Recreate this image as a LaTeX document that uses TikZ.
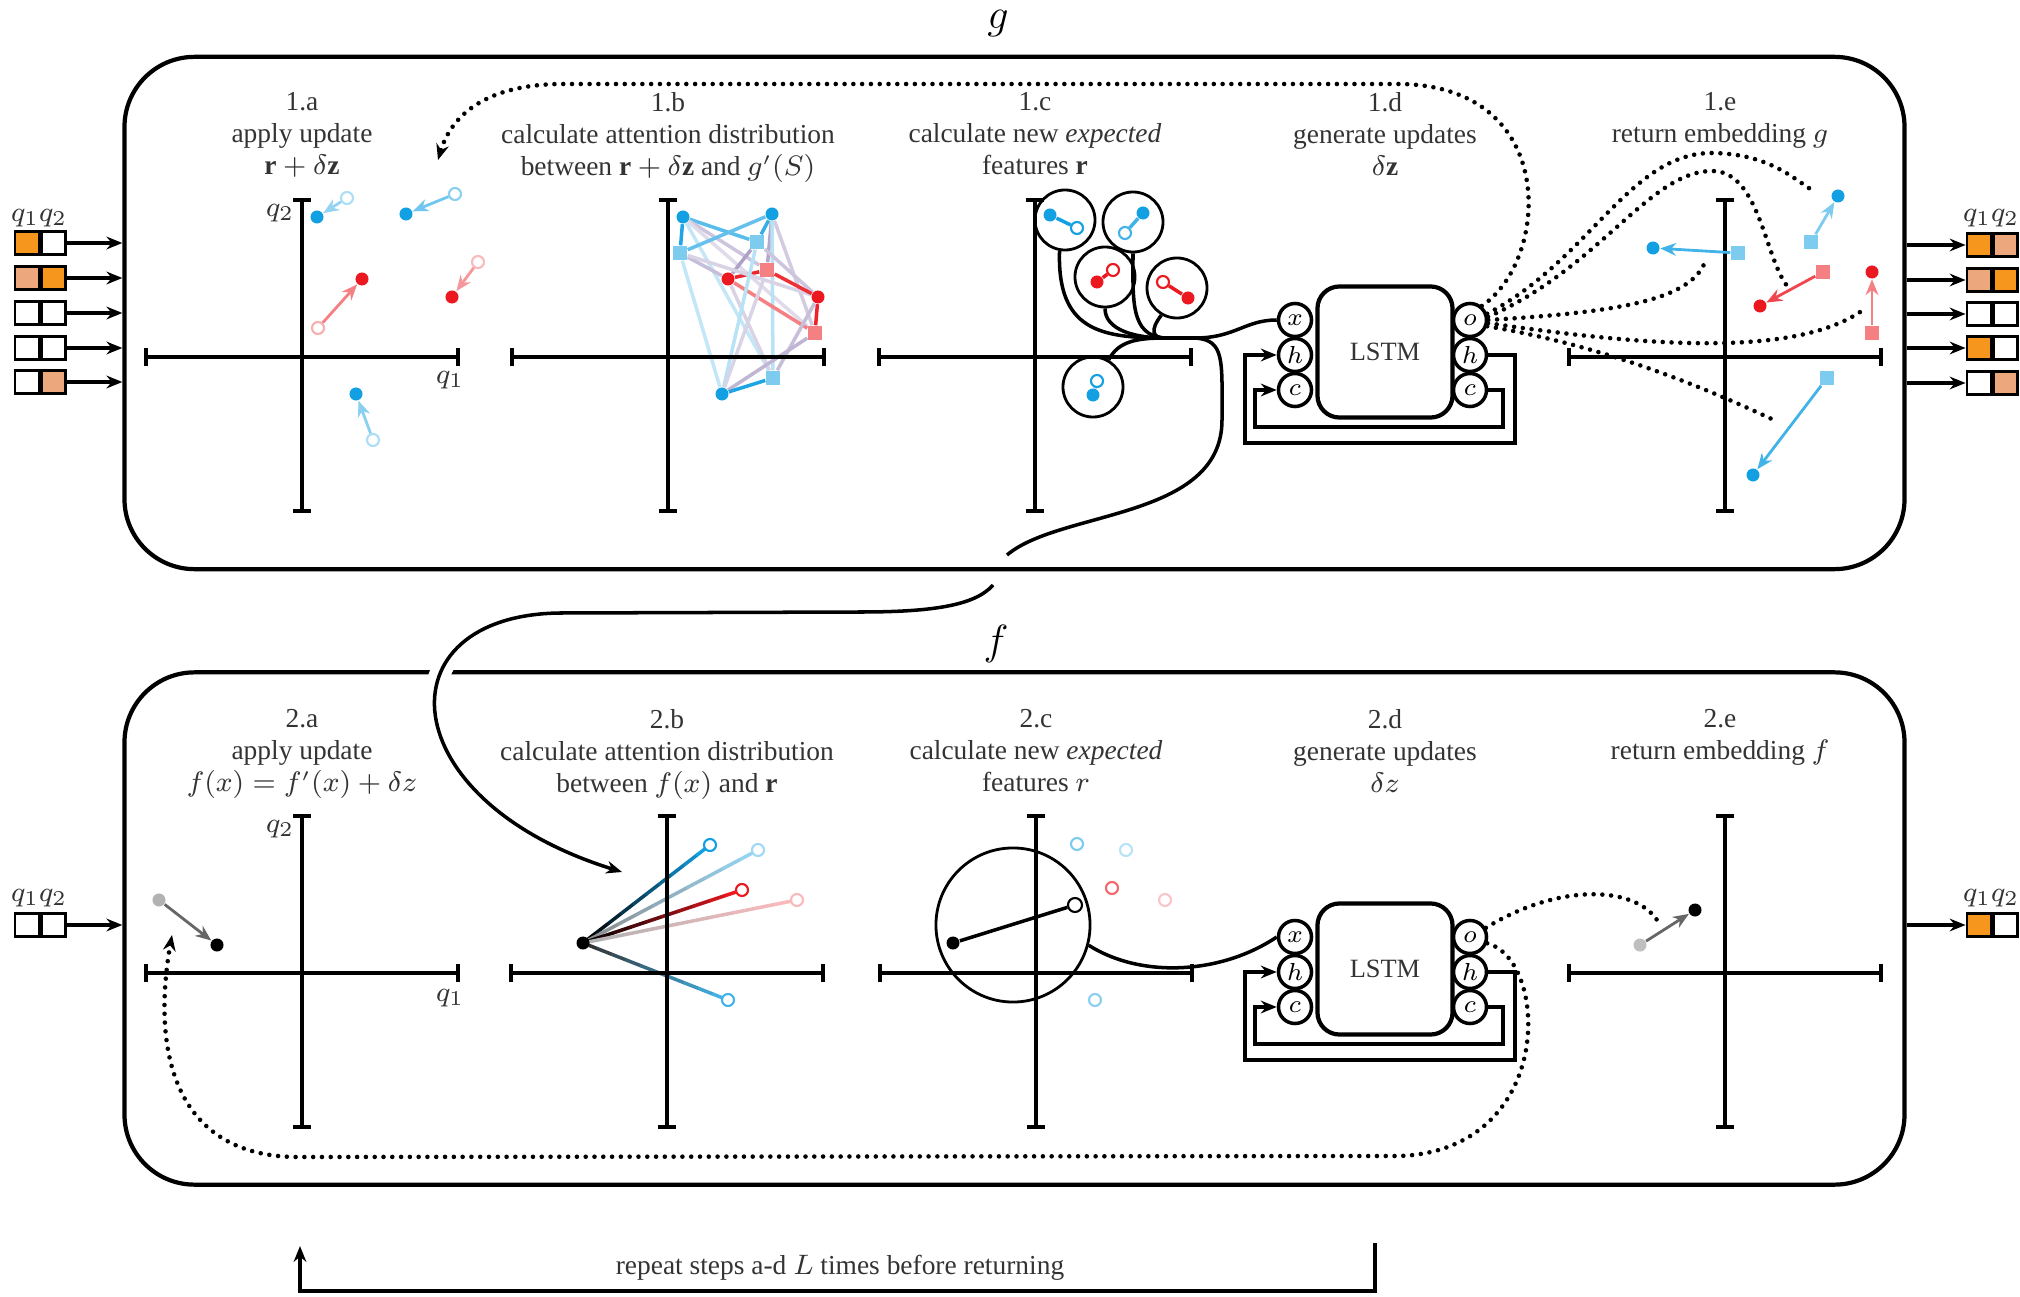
\documentclass[tikz,border=0pt]{standalone}
\usepackage{amsmath, amssymb}
\usepackage{fontspec}
\setmainfont{Liberation Serif}
\usetikzlibrary{positioning,calc,arrows.meta,backgrounds}

\definecolor{ptblue}{RGB}{18,160,226}
\definecolor{ptred}{RGB}{236,24,32}
\definecolor{ptmix}{RGB}{130,110,170}
\definecolor{ptorange}{RGB}{246,150,28}
\definecolor{ptpeach}{RGB}{236,168,124}

\begin{document}
\begin{tikzpicture}[
    x=0.01cm,
    y=-0.01cm,
    font=\fontsize{7.8}{9}\selectfont,
    >={Stealth[length=4.5pt,width=3.6pt]},
    panel/.style={
        draw,
        line width=1.2pt,
        rounded corners=0.7cm,
        minimum width=17.79cm,
        minimum height=5.12cm
    },
    qaxis/.style={
        line width=1.2pt,
        {Bar[width=5pt]}-{Bar[width=5pt]}
    },
    heading/.style={
        align=center,
        anchor=north,
        inner sep=0pt,
        text=black!80
    },
    qlabel/.style={
        font=\fontsize{8.5}{10}\selectfont,
        text=black!80
    },
    pdot/.style={circle, fill=#1, inner sep=0pt, minimum size=0.13cm},
    pring/.style={circle, draw=#1, fill=white, line width=0.6pt, inner sep=0pt, minimum size=0.12cm},
    psq/.style={rectangle, fill=#1, inner sep=0pt, minimum size=0.14cm},
    nudge/.style={->, line width=0.8pt, draw=#1},
    bubble/.style={circle, draw, line width=0.8pt, inner sep=0pt, minimum size=0.6cm},
    gate/.style={
        circle,
        draw,
        line width=1pt,
        inner sep=0pt,
        minimum size=0.33cm,
        font=\fontsize{7.5}{8}\selectfont
    },
    cellbox/.style={
        draw,
        line width=1.2pt,
        rounded corners=0.22cm,
        minimum width=1.35cm,
        minimum height=1.31cm,
        font=\fontsize{7.5}{8}\selectfont,
        text=black!80
    },
    slot/.style={draw, line width=0.8pt, fill=#1, inner sep=0pt, minimum width=0.24cm, minimum height=0.23cm},
    wire/.style={line width=1pt},
    dotline/.style={line width=1.3pt, line cap=round, dash pattern=on 0pt off 2.5pt}
]
    \useasboundingbox (0,0) rectangle (2020,1297);

    % panels
    \node[panel] (gpanel) at (1014.5,313) {};
    \node[panel] (fpanel) at (1014.5,928.5) {};
    \node[font=\fontsize{13}{15}\selectfont] (gname) at (998,24) {$g$};
    \node[font=\fontsize{13}{15}\selectfont] (fname) at (996,644) {$f$};

    % axes
    \foreach \cx/\cy in {302/357, 668/357, 1035/357, 1725/357, 302/973, 667/973, 1036/973, 1725/973}{
        \draw[qaxis] (\cx-158,\cy) -- (\cx+158,\cy);
        \draw[qaxis] (\cx,\cy-159) -- (\cx,\cy+156);
    }
    \node[qlabel] (q2top) at (280,213) {$q_2$};
    \node[qlabel] (q1top) at (450,380) {$q_1$};
    \node[qlabel] (q2bot) at (280,829) {$q_2$};
    \node[qlabel] (q1bot) at (450,998) {$q_1$};

    % headings
    \node[heading] (ha) at (302,92) {1.a\\apply update\\$\mathbf{r}+\delta\mathbf{z}$};
    \node[heading] (hb) at (668,92) {1.b\\calculate attention distribution\\between $\mathbf{r}+\delta\mathbf{z}$ and $g'(S)$};
    \node[heading] (hc) at (1035,92) {1.c\\calculate new \emph{expected}\\features $\mathbf{r}$};
    \node[heading] (hd) at (1385,92) {1.d\\generate updates\\$\delta\mathbf{z}$};
    \node[heading] (he) at (1720,92) {1.e\\return embedding $g$};
    \node[heading] (h2a) at (302,709) {2.a\\apply update\\$f(x)=f'(x)+\delta z$};
    \node[heading] (h2b) at (667,709) {2.b\\calculate attention distribution\\between $f(x)$ and $\mathbf{r}$};
    \node[heading] (h2c) at (1036,709) {2.c\\calculate new \emph{expected}\\features $r$};
    \node[heading] (h2d) at (1385,709) {2.d\\generate updates\\$\delta z$};
    \node[heading] (h2e) at (1720,709) {2.e\\return embedding $f$};

    % inputs and outputs
    \node[qlabel] (qinA) at (39,218) {$q_1q_2$};
    \foreach \n/\yy/\cl/\cr in {1/243/ptorange/white, 2/278/ptpeach/ptorange, 3/313/white/white, 4/348/white/white, 5/382/white/ptpeach}{
        \node[slot=\cl] (inL\n) at (27,\yy) {};
        \node[slot=\cr, right=0pt of inL\n] (inR\n) {};
        \draw[wire,->] (inR\n.east) -- (inR\n.east -| gpanel.west);
    }
    \node[qlabel] (qoutA) at (1991,218) {$q_1q_2$};
    \foreach \n/\yy/\cl/\cr in {1/245/ptorange/ptpeach, 2/280/ptpeach/ptorange, 3/314/white/white, 4/348/ptorange/white, 5/383/white/ptpeach}{
        \node[slot=\cl] (outL\n) at (1979,\yy) {};
        \node[slot=\cr, right=0pt of outL\n] (outR\n) {};
        \draw[wire,->] (gpanel.east |- outL\n.west) -- (outL\n.west);
    }
    \node[qlabel] (qinB) at (39,898) {$q_1q_2$};
    \node[slot=white] (inLB) at (27,925) {};
    \node[slot=white, right=0pt of inLB] (inRB) {};
    \draw[wire,->] (inRB.east) -- (inRB.east -| fpanel.west);
    \node[qlabel] (qoutB) at (1991,898) {$q_1q_2$};
    \node[slot=ptorange] (outLB) at (1979,925) {};
    \node[slot=white, right=0pt of outLB] (outRB) {};
    \draw[wire,->] (fpanel.east |- outLB.west) -- (outLB.west);

    % 1.a apply update
    \begin{scope}[shift={(302,357)}]
        \node[pdot=ptblue] (aB1) at (15,-140) {};
        \node[pring=ptblue!35] (aB1o) at (45,-159) {};
        \node[pdot=ptblue] (aB2) at (104,-143) {};
        \node[pring=ptblue!50] (aB2o) at (153,-163) {};
        \node[pdot=ptred] (aR1) at (60,-78) {};
        \node[pring=ptred!35] (aR1o) at (16,-29) {};
        \node[pdot=ptred] (aR2) at (150,-60) {};
        \node[pring=ptred!30] (aR2o) at (176,-95) {};
        \node[pdot=ptblue] (aB3) at (54,37) {};
        \node[pring=ptblue!35] (aB3o) at (71,83) {};
    \end{scope}
    \draw[nudge=ptblue!45] (aB1o) -- (aB1);
    \draw[nudge=ptblue!60] (aB2o) -- (aB2);
    \draw[nudge=ptred!55] (aR1o) -- (aR1);
    \draw[nudge=ptred!45] (aR2o) -- (aR2);
    \draw[nudge=ptblue!50] (aB3o) -- (aB3);

    % 1.b attention
    \begin{scope}[shift={(668,357)}]
        \node[pdot=ptblue] (bP1) at (15,-140) {};
        \node[pdot=ptblue] (bP2) at (104,-143) {};
        \node[pdot=ptred] (bP3) at (60,-78) {};
        \node[pdot=ptred] (bP4) at (150,-60) {};
        \node[pdot=ptblue] (bP5) at (54,37) {};
        \node[psq=ptblue!55] (bQ1) at (12,-104) {};
        \node[psq=ptblue!55] (bQ2) at (89,-115) {};
        \node[psq=ptred!55] (bQ3) at (99,-87) {};
        \node[psq=ptred!55] (bQ4) at (147,-24) {};
        \node[psq=ptblue!55] (bQ5) at (105,21) {};
    \end{scope}
    \begin{scope}[on background layer]
        \foreach \i/\j/\c/\o in {
            1/1/ptblue/95, 1/2/ptblue/70, 1/3/ptmix/40, 1/4/ptmix/25, 1/5/ptblue/25,
            2/1/ptblue/65, 2/2/ptblue/85, 2/3/ptmix/60, 2/4/ptmix/35, 2/5/ptblue/30,
            3/1/ptmix/45, 3/2/ptmix/65, 3/3/ptred/95, 3/4/ptred/55, 3/5/ptmix/30,
            4/1/ptmix/30, 4/2/ptmix/40, 4/3/ptred/90, 4/4/ptred/95, 4/5/ptmix/45,
            5/1/ptblue/25, 5/2/ptblue/30, 5/3/ptmix/30, 5/4/ptmix/50, 5/5/ptblue/95}
            \draw[line width=1pt, draw=\c!\o!white] (bP\i) -- (bQ\j);
    \end{scope}

    % 1.c expected features
    \begin{scope}[shift={(1035,357)}]
        \node[bubble] (cC1) at (30,-137) {};
        \node[bubble] (cC2) at (98,-135) {};
        \node[bubble] (cC3) at (70,-80) {};
        \node[bubble] (cC4) at (142,-69) {};
        \node[bubble] (cC5) at (58,30) {};
        \node[pdot=ptblue] (cB1) at (15,-142) {};
        \node[pring=ptblue] (cB1o) at (42,-129) {};
        \node[pdot=ptblue] (cB2) at (108,-144) {};
        \node[pring=ptblue!80] (cB2o) at (90,-124) {};
        \node[pdot=ptred] (cR1) at (62,-75) {};
        \node[pring=ptred] (cR1o) at (78,-87) {};
        \node[pdot=ptred] (cR2) at (153,-59) {};
        \node[pring=ptred] (cR2o) at (128,-75) {};
        \node[pdot=ptblue] (cB3) at (58,38) {};
        \node[pring=ptblue] (cB3o) at (62,24) {};
    \end{scope}
    \draw[ptblue, line width=1pt] (cB1) -- (cB1o);
    \draw[ptblue!80, line width=1pt] (cB2) -- (cB2o);
    \draw[ptred, line width=1pt] (cR1) -- (cR1o);
    \draw[ptred, line width=1pt] (cR2) -- (cR2o);
    \draw[ptblue, line width=1pt] (cB3) -- (cB3o);

    % 1.d LSTM
    \node[cellbox] (lstmA) at (1385,352) {LSTM};
    \node[gate] (xA) at (1295,320) {$x$};
    \node[gate] (hA) at (1295,355) {$h$};
    \node[gate] (cA) at (1295,390) {$c$};
    \node[gate] (oA) at (1470,320) {$o$};
    \node[gate] (hoA) at (1470,355) {$h$};
    \node[gate] (coA) at (1470,390) {$c$};
    \draw[wire,->] (hoA.east) -| (1515,443) -| (1245,355) -- (hA.west);
    \draw[wire,->] (coA.east) -| (1503,427) -| (1255,390) -- (cA.west);

    % wires into the LSTM
    \coordinate (tap) at (1165,338);
    \coordinate (split) at (1195,338);
    \draw[wire] (cC1.-100) .. controls (1057,330) and (1100,338) .. (tap);
    \draw[wire] (cC3.south) .. controls (1105,330) and (1135,338) .. (tap);
    \draw[wire] (cC2.south) .. controls (1133,300) and (1130,336) .. (tap);
    \draw[wire] (cC4.-120) .. controls (1150,330) and (1152,338) .. (tap);
    \draw[wire] (cC5.60) .. controls (1118,342) and (1135,338) .. (tap);
    \draw[wire] (tap) -- (split) .. controls (1235,338) and (1245,320) .. (xA.west);
    \coordinate (dropA) at (1007,555);
    \coordinate (dropB) at (993,585);
    \coordinate (hitB) at (622,872);
    \draw[wire] (split) .. controls (1225,340) and (1222,360) .. (1222,420)
        .. controls (1222,520) and (1060,510) .. (dropA);
    \draw[wire,->,preaction={draw=white,line width=6pt}] (dropB) .. controls (975,606) and (930,612) .. (860,612)
        -- (560,613) .. controls (380,615) and (390,800) .. (hitB);

    % 1.e return embedding
    \begin{scope}[shift={(1725,357)}]
        \node[psq=ptblue!55] (eS1) at (13,-104) {};
        \node[psq=ptblue!55] (eS2) at (86,-115) {};
        \node[psq=ptred!55] (eS3) at (98,-85) {};
        \node[psq=ptred!55] (eS4) at (147,-24) {};
        \node[psq=ptblue!55] (eS5) at (102,21) {};
        \node[pdot=ptblue] (eB1) at (-72,-109) {};
        \node[pdot=ptblue] (eB2) at (113,-161) {};
        \node[pdot=ptred] (eR1) at (35,-51) {};
        \node[pdot=ptred] (eR2) at (147,-85) {};
        \node[pdot=ptblue] (eB3) at (28,118) {};
    \end{scope}
    \draw[nudge=ptblue!80] (eS1) -- (eB1);
    \draw[nudge=ptblue!55] (eS2) -- (eB2);
    \draw[nudge=ptred!80] (eS3) -- (eR1);
    \draw[nudge=ptred!55] (eS4) -- (eR2);
    \draw[nudge=ptblue!80] (eS5) -- (eB3);

    % dotted updates out of the LSTM
    \coordinate (e1) at (1812,190);
    \coordinate (e2) at (1788,287);
    \coordinate (e3) at (1705,262);
    \coordinate (e4) at (1863,310);
    \coordinate (e5) at (1778,422);
    \coordinate (aTip) at (438,160);
    \draw[dotline] (oA.20) .. controls (1590,260) and (1630,152) .. (1713,153)
        .. controls (1770,154) and (1795,180) .. (e1);
    \draw[dotline] (oA.10) .. controls (1600,268) and (1650,170) .. (1713,171)
        .. controls (1760,172) and (1765,260) .. (e2);
    \draw[dotline] (oA.0) .. controls (1620,312) and (1690,300) .. (e3);
    \draw[dotline] (oA.-10) .. controls (1620,342) and (1790,362) .. (e4);
    \draw[dotline] (oA.-20) .. controls (1600,345) and (1700,385) .. (e5);
    \draw[dotline,->] (oA.50) .. controls (1550,260) and (1560,86) .. (1400,84)
        -- (560,84) .. controls (480,85) and (450,120) .. (aTip);

    % 2.a apply update
    \begin{scope}[shift={(302,973)}]
        \node[pdot=black!30] (fOld) at (-143,-73) {};
        \node[pdot=black] (fNew) at (-85,-28) {};
    \end{scope}
    \draw[nudge=black!60] (fOld) -- (fNew);

    % 2.b attention
    \begin{scope}[shift={(667,973)}]
        \node[pdot=black] (bX) at (-84,-30) {};
        \node[pring=ptblue] (bR1) at (43,-128) {};
        \node[pring=ptblue!40] (bR2) at (91,-123) {};
        \node[pring=ptred] (bR3) at (75,-83) {};
        \node[pring=ptred!30] (bR4) at (130,-73) {};
        \node[pring=ptblue!80] (bR5) at (61,27) {};
    \end{scope}
    \begin{scope}[on background layer]
        \foreach \t/\c/\w in {bR1/ptblue/100, bR2/ptblue/45, bR3/ptred/100, bR4/ptred/30, bR5/ptblue/80}{
            \foreach \k in {0,...,9}{
                \pgfmathtruncatemacro{\mixval}{100*\k/9}
                \draw[line width=1pt, line cap=round, draw=\c!\mixval!black!\w!white]
                    ($(bX)!\k/10!(\t)$) -- ($(bX)!\k/10+0.1!(\t)$);
            }
        }
    \end{scope}

    % 2.c expected feature
    \begin{scope}[shift={(1036,973)}]
        \node[circle, draw, line width=0.8pt, minimum size=1.54cm] (bigC) at (-23,-48) {};
        \node[pdot=black] (gX) at (-83,-30) {};
        \node[pring=black, minimum size=0.14cm] (gR) at (39,-68) {};
        \node[pring=ptblue!55] (gB1) at (41,-129) {};
        \node[pring=ptblue!30] (gB2) at (90,-123) {};
        \node[pring=ptred!65] (gR1) at (76,-85) {};
        \node[pring=ptred!25] (gR2) at (129,-73) {};
        \node[pring=ptblue!50] (gB3) at (59,27) {};
    \end{scope}
    \draw[wire] (gX) -- (gR);

    % 2.d LSTM
    \node[cellbox] (lstmB) at (1385,969) {LSTM};
    \node[gate] (xB) at (1295,937) {$x$};
    \node[gate] (hB) at (1295,972) {$h$};
    \node[gate] (cB) at (1295,1007) {$c$};
    \node[gate] (oB) at (1470,937) {$o$};
    \node[gate] (hoB) at (1470,972) {$h$};
    \node[gate] (coB) at (1470,1007) {$c$};
    \draw[wire,->] (hoB.east) -| (1515,1060) -| (1245,972) -- (hB.west);
    \draw[wire,->] (coB.east) -| (1503,1044) -| (1255,1007) -- (cB.west);
    \draw[wire] (bigC.-15) .. controls (1140,978) and (1220,975) .. (xB.west);

    % 2.e return embedding
    \begin{scope}[shift={(1725,973)}]
        \node[pdot=black!25] (hOld) at (-85,-28) {};
        \node[pdot=black] (hNew) at (-30,-63) {};
    \end{scope}
    \draw[nudge=black!60] (hOld) -- (hNew);
    \coordinate (fEnd) at (1660,925);
    \coordinate (aRet) at (172,935);
    \draw[dotline] (oB.30) .. controls (1560,882) and (1640,885) .. (fEnd);
    \draw[dotline,->] (oB.-20) .. controls (1550,960) and (1555,1150) .. (1400,1156)
        -- (300,1157) .. controls (180,1158) and (150,1060) .. (aRet);

    % repeat loop
    \coordinate (loopR) at (1375,1243);
    \coordinate (loopL) at (300,1246);
    \node[text=black!80] (repeat) at (840,1268) {repeat steps a-d $L$ times before returning};
    \draw[wire,->] (loopR) |- (840,1291) -| (loopL);
\end{tikzpicture}
\end{document}
